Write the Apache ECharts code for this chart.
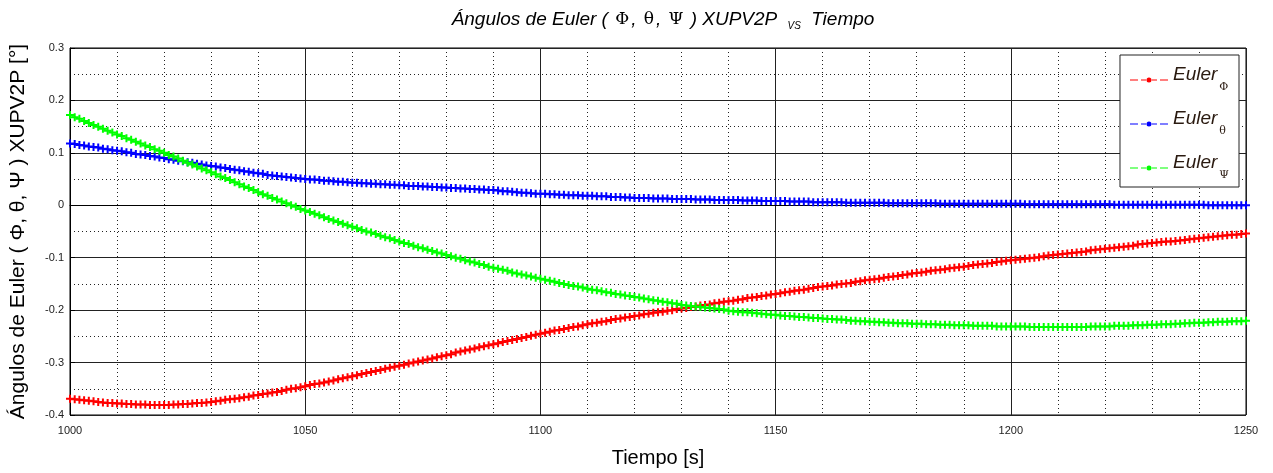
<!DOCTYPE html>
<html>
<head>
<meta charset="utf-8">
<script src="https://cdn.jsdelivr.net/npm/echarts@6/dist/echarts.min.js"></script>
<style>html,body{margin:0;padding:0;background:#fff}#c{width:1273px;height:473px}</style>
</head>
<body>
<div id="c"></div>
<script>
// Sample times start at 1000 s, one sample per second
const tStart = 1000;
const tStep = 1;
const xTicks = [1000, 1050, 1100, 1150, 1200, 1250];
const yTicks = [-0.4, -0.3, -0.2, -0.1, 0, 0.1, 0.2, 0.3];

const eulerPhi = [
-0.369,-0.370,-0.371,-0.372,-0.373, -0.374,-0.375,-0.376,-0.377,-0.377,
-0.378,-0.378,-0.379,-0.379,-0.380, -0.380,-0.380,-0.381,-0.381,-0.381,
-0.381,-0.381,-0.380,-0.380,-0.379, -0.379,-0.378,-0.377,-0.377,-0.376,
-0.375,-0.374,-0.373,-0.371,-0.370, -0.369,-0.368,-0.366,-0.365,-0.363,
-0.362,-0.360,-0.359,-0.357,-0.356, -0.354,-0.352,-0.350,-0.349,-0.347,
-0.345,-0.343,-0.341,-0.340,-0.338, -0.336,-0.334,-0.332,-0.330,-0.328,
-0.326,-0.324,-0.322,-0.320,-0.318, -0.316,-0.314,-0.312,-0.310,-0.308,
-0.306,-0.304,-0.302,-0.300,-0.298, -0.296,-0.294,-0.292,-0.290,-0.288,
-0.286,-0.284,-0.281,-0.279,-0.277, -0.275,-0.273,-0.271,-0.269,-0.267,
-0.265,-0.263,-0.261,-0.259,-0.257, -0.255,-0.253,-0.251,-0.249,-0.247,
-0.245,-0.243,-0.241,-0.239,-0.238, -0.236,-0.234,-0.232,-0.231,-0.229,
-0.227,-0.225,-0.224,-0.222,-0.221, -0.219,-0.217,-0.216,-0.214,-0.213,
-0.211,-0.210,-0.208,-0.207,-0.205, -0.204,-0.203,-0.201,-0.200,-0.198,
-0.197,-0.196,-0.194,-0.193,-0.191, -0.190,-0.189,-0.187,-0.186,-0.184,
-0.183,-0.182,-0.180,-0.179,-0.177, -0.176,-0.175,-0.173,-0.172,-0.170,
-0.169,-0.168,-0.166,-0.165,-0.163, -0.162,-0.161,-0.159,-0.158,-0.156,
-0.155,-0.154,-0.153,-0.151,-0.150, -0.149,-0.148,-0.146,-0.145,-0.143,
-0.142,-0.141,-0.140,-0.138,-0.137, -0.136,-0.135,-0.133,-0.132,-0.130,
-0.129,-0.128,-0.127,-0.125,-0.124, -0.123,-0.122,-0.120,-0.119,-0.118,
-0.117,-0.116,-0.114,-0.113,-0.112, -0.111,-0.110,-0.108,-0.107,-0.106,
-0.105,-0.104,-0.103,-0.102,-0.101, -0.100,-0.099,-0.097,-0.096,-0.095,
-0.094,-0.093,-0.092,-0.091,-0.090, -0.089,-0.088,-0.086,-0.085,-0.084,
-0.083,-0.082,-0.081,-0.080,-0.079, -0.078,-0.077,-0.075,-0.074,-0.073,
-0.072,-0.071,-0.070,-0.069,-0.069, -0.068,-0.067,-0.066,-0.065,-0.064,
-0.063,-0.062,-0.061,-0.060,-0.059, -0.058,-0.057,-0.056,-0.056,-0.055,
-0.054
];

const eulerTheta = [
0.118,0.117,0.115,0.114,0.112,0.111,0.110,0.108,0.107,0.105,
0.104,0.103,0.101,0.100,0.098,0.097,0.096,0.094,0.093,0.091,
0.090,0.088,0.087,0.085,0.084,0.082,0.081,0.079,0.078,0.076,
0.075,0.074,0.072,0.071,0.069,0.068,0.067,0.065,0.064,0.062,
0.061,0.060,0.058,0.057,0.056,0.055,0.054,0.053,0.052,0.051,
0.050,0.049,0.049,0.048,0.047,0.047,0.046,0.045,0.045,0.044,
0.043,0.043,0.042,0.042,0.041,0.041,0.040,0.040,0.039,0.039,
0.038,0.038,0.037,0.037,0.037,0.036,0.036,0.035,0.035,0.034,
0.034,0.033,0.033,0.032,0.032,0.031,0.031,0.030,0.030,0.029,
0.029,0.028,0.027,0.027,0.026,0.025,0.024,0.024,0.023,0.022,
0.022,0.022,0.021,0.021,0.020,0.020,0.019,0.019,0.019,0.018,
0.018,0.018,0.017,0.017,0.017,0.016,0.016,0.016,0.015,0.015,
0.014,0.014,0.014,0.014,0.013,0.013,0.013,0.013,0.012,0.012,
0.012,0.012,0.012,0.011,0.011,0.011,0.011,0.010,0.010,0.010,
0.010,0.010,0.010,0.009,0.009,0.009,0.009,0.008,0.008,0.008,
0.008,0.008,0.008,0.007,0.007,0.007,0.007,0.007,0.006,0.006,
0.006,0.006,0.006,0.006,0.006,0.005,0.005,0.005,0.005,0.005,
0.005,0.005,0.005,0.005,0.004,0.004,0.004,0.004,0.004,0.004,
0.004,0.004,0.004,0.004,0.004,0.003,0.003,0.003,0.003,0.003,
0.003,0.003,0.003,0.003,0.003,0.003,0.003,0.003,0.003,0.003,
0.003,0.003,0.003,0.002,0.002,0.002,0.002,0.002,0.002,0.002,
0.002,0.002,0.002,0.002,0.002,0.002,0.002,0.002,0.002,0.002,
0.002,0.002,0.001,0.001,0.001,0.001,0.001,0.001,0.001,0.001,
0.001,0.001,0.001,0.001,0.001,0.001,0.001,0.001,0.001,0.001,
0.001,0.001,0.000,0.000,0.000,0.000,0.000,0.000,0.000,0.000,
0.000
];

const eulerPsi = [
0.172,0.168,0.165,0.161,0.157,0.153,0.150,0.146,0.142,0.139,
0.135,0.132,0.128,0.125,0.121,0.118,0.114,0.111,0.107,0.104,
0.100,0.096,0.093,0.089,0.085,0.081,0.078,0.074,0.070,0.067,
0.063,0.059,0.055,0.052,0.048,0.044,0.040,0.036,0.033,0.029,
0.025,0.021,0.018,0.014,0.011,0.007,0.004,0.000,-0.003,-0.007,
-0.010,-0.013,-0.016,-0.019,-0.023,-0.026,-0.029,-0.032,-0.035,-0.038,
-0.041,-0.044,-0.047,-0.050,-0.052,-0.055,-0.058,-0.061,-0.063,-0.066,
-0.069,-0.072,-0.074,-0.077,-0.080,-0.082,-0.085,-0.087,-0.090,-0.092,
-0.095,-0.097,-0.100,-0.102,-0.105,-0.107,-0.109,-0.112,-0.114,-0.117,
-0.119,-0.121,-0.123,-0.125,-0.128,-0.130,-0.132,-0.134,-0.136,-0.138,
-0.140,-0.142,-0.144,-0.146,-0.148,-0.150,-0.152,-0.154,-0.155,-0.157,
-0.159,-0.161,-0.162,-0.164,-0.166,-0.167,-0.169,-0.170,-0.172,-0.173,
-0.175,-0.176,-0.178,-0.179,-0.181,-0.182,-0.184,-0.185,-0.187,-0.188,
-0.190,-0.191,-0.192,-0.193,-0.194,-0.195,-0.196,-0.197,-0.198,-0.199,
-0.201,-0.202,-0.203,-0.204,-0.204,-0.205,-0.206,-0.207,-0.208,-0.209,
-0.209,-0.210,-0.211,-0.211,-0.212,-0.213,-0.213,-0.214,-0.215,-0.215,
-0.216,-0.217,-0.217,-0.218,-0.218,-0.219,-0.220,-0.220,-0.221,-0.221,
-0.222,-0.222,-0.223,-0.223,-0.224,-0.224,-0.225,-0.225,-0.225,-0.226,
-0.226,-0.226,-0.227,-0.227,-0.227,-0.228,-0.228,-0.228,-0.229,-0.229,
-0.229,-0.229,-0.230,-0.230,-0.230,-0.230,-0.230,-0.231,-0.231,-0.231,
-0.231,-0.231,-0.231,-0.231,-0.232,-0.232,-0.232,-0.232,-0.232,-0.232,
-0.232,-0.232,-0.232,-0.232,-0.232,-0.232,-0.232,-0.231,-0.231,-0.231,
-0.231,-0.231,-0.230,-0.230,-0.230,-0.230,-0.229,-0.229,-0.229,-0.228,
-0.228,-0.228,-0.227,-0.227,-0.227,-0.226,-0.226,-0.225,-0.225,-0.224,
-0.224,-0.224,-0.223,-0.223,-0.222,-0.222,-0.222,-0.221,-0.221,-0.221,
-0.220
];

const seriesNames = ['EulerPhi', 'EulerTheta', 'EulerPsi'];
const seriesSubs = ['Φ', 'θ', 'Ψ'];
const seriesColors = ['#ff0000', '#0000ff', '#00ff00'];
const seriesData = [eulerPhi, eulerTheta, eulerPsi];

function pairs(arr) { return arr.map((v, i) => [tStart + i * tStep, v]); }

const FONT = 'Liberation Sans, Arial, sans-serif';
const plusPath = 'path://M3,0h2v3h3v2h-3v3h-2v-3h-3v-2h3z';
const legendIcon = 'path://M0,2.5h8v1h-8z M11,2.5h6v1h-6z M21,2.5h6v1h-6z M30,2.5h8v1h-8z M16.5,3a2.5,2.5 0 1,0 5,0a2.5,2.5 0 1,0 -5,0z';

const chart = echarts.init(document.getElementById('c'), null, {renderer: 'canvas'});
chart.setOption({
  animation: false,
  backgroundColor: '#fff',
  title: {
    text: '{a|Ángulos de Euler ( }{g|Φ}{a|, }{g|θ}{a|, }{g|Ψ}{a| ) XUPV2P }{s|VS}{a| Tiempo}',
    left: 658, textAlign: 'center', top: 3,
    textStyle: {
      fontWeight: 'normal',
      rich: {
        a: {fontFamily: FONT, fontStyle: 'italic', fontWeight: 'normal', fontSize: 19, color: '#000'},
        g: {fontFamily: 'DejaVu Serif, serif', fontStyle: 'normal', fontWeight: 'normal', fontSize: 17, color: '#000', padding: [0, 2, 0, 2]},
        s: {fontFamily: FONT, fontStyle: 'italic', fontWeight: 'normal', fontSize: 10, color: '#000', padding: [13, 5, 0, 5]}
      }
    }
  },
  grid: {left: 70, right: 27, top: 48, bottom: 57, show: true, borderColor: '#000', borderWidth: 1, backgroundColor: '#fff'},
  legend: {
    orient: 'vertical', right: 34, top: 55,
    backgroundColor: '#fff', borderColor: '#222', borderWidth: 1,
    padding: [10, 10, 4, 10], itemGap: 14,
    itemWidth: 38, itemHeight: 5, icon: legendIcon,
    data: seriesNames,
    formatter: function (name) {
      const i = seriesNames.indexOf(name);
      return '{a|Euler}{b|' + seriesSubs[i] + '}';
    },
    textStyle: {
      rich: {
        a: {fontFamily: FONT, fontStyle: 'italic', fontSize: 19, color: '#2a1a10', lineHeight: 30, verticalAlign: 'top'},
        b: {fontFamily: 'DejaVu Serif, serif', fontSize: 11, color: '#2a1a10', lineHeight: 30, verticalAlign: 'bottom', padding: [0, 0, 2, 2]}
      }
    }
  },
  xAxis: {
    type: 'value', min: xTicks[0], max: xTicks[xTicks.length - 1], interval: 50,
    name: 'Tiempo [s]', nameLocation: 'middle', nameGap: 33,
    nameTextStyle: {fontFamily: FONT, fontSize: 20, color: '#000'},
    axisLine: {show: true, lineStyle: {color: '#000'}},
    axisTick: {show: true, inside: true, length: 5, lineStyle: {color: '#000'}},
    axisLabel: {fontFamily: FONT, fontSize: 11, color: '#222', margin: 10,
      formatter: function (v) { return String(v); }},
    splitLine: {show: true, lineStyle: {color: '#222', width: 1}},
    minorTick: {show: false, splitNumber: 5},
    minorSplitLine: {show: true, lineStyle: {color: '#222', type: [1, 3], width: 1}}
  },
  yAxis: {
    type: 'value', min: yTicks[0], max: yTicks[yTicks.length - 1], interval: 0.1,
    name: 'Ángulos de Euler ( Φ, θ, Ψ ) XUPV2P [°]', nameLocation: 'middle', nameGap: 41,
    nameTextStyle: {fontFamily: FONT, fontSize: 21, color: '#000'},
    axisLine: {show: true, lineStyle: {color: '#000'}},
    axisTick: {show: true, inside: true, length: 5, lineStyle: {color: '#000'}},
    axisLabel: {fontFamily: FONT, fontSize: 11, color: '#222', margin: 6,
      formatter: function (v) { return String(Math.round(v * 10) / 10); }},
    splitLine: {show: true, lineStyle: {color: '#222', width: 1}},
    minorTick: {show: false, splitNumber: 2},
    minorSplitLine: {show: true, lineStyle: {color: '#222', type: [1, 3], width: 1}}
  },
  series: seriesNames.map((n, i) => ({
    name: n, type: 'line',
    data: pairs(seriesData[i]),
    symbol: plusPath, symbolSize: 8, showSymbol: true,
    itemStyle: {color: seriesColors[i]},
    lineStyle: {color: seriesColors[i], width: 1, type: 'dashed'},
    z: 3 + i
  }))
});
</script>
</body>
</html>
